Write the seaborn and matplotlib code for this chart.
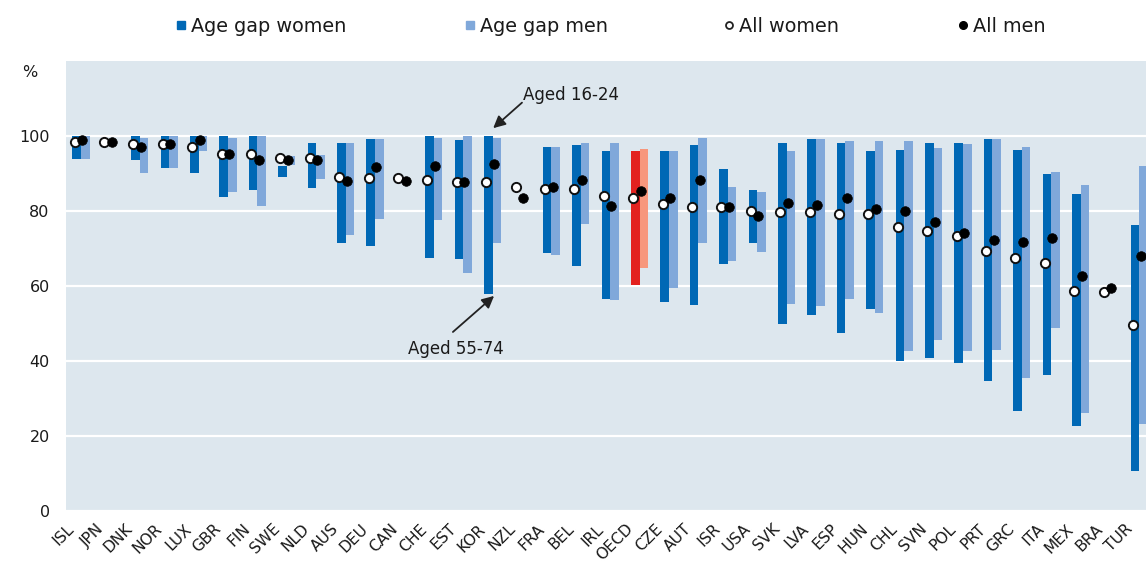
import numpy as np
import pandas as pd
import matplotlib
matplotlib.use("Agg")
import matplotlib.pyplot as plt
from matplotlib.lines import Line2D
from matplotlib.transforms import ScaledTranslation
import seaborn as sns

# Dati (%)
countries = ["ISL", "JPN", "DNK", "NOR", "LUX", "GBR", "FIN", "SWE", "NLD", "AUS",
             "DEU", "CAN", "CHE", "EST", "KOR", "NZL", "FRA", "BEL", "IRL", "OECD",
             "CZE", "AUT", "ISR", "USA", "SVK", "LVA", "ESP", "HUN", "CHL", "SVN",
             "POL", "PRT", "GRC", "ITA", "MEX", "BRA", "TUR"]

women_16_24 = [100, np.nan, 100, 100, 100, 100, 100, 91.8, 98.1, 98.1,
               99.0, np.nan, 100, 98.8, 99.8, np.nan, 96.9, 97.4, 96.0, 96.0,
               96.0, 97.4, 91.2, 85.5, 98.1, 99.0, 98.1, 95.8, 96.2, 98.1,
               98.1, 99.0, 96.2, 89.8, 84.5, np.nan, 76.3]
women_55_74 = [93.8, np.nan, 93.4, 91.3, 90.0, 83.7, 85.6, 88.9, 86.0, 71.4,
               70.6, np.nan, 67.3, 67.2, 57.9, np.nan, 68.7, 65.2, 56.5, 60.3,
               55.6, 55.0, 65.8, 71.5, 49.7, 52.2, 47.3, 53.7, 40.0, 40.7,
               39.3, 34.7, 26.6, 36.2, 22.6, np.nan, 10.7]
men_16_24 = [100, np.nan, 99.5, 100, 100, 99.5, 100, 94.5, 94.9, 98.1,
             99.0, np.nan, 99.5, 99.8, 99.3, np.nan, 96.9, 98.0, 98.0, 96.5,
             96.0, 99.3, 86.3, 85.1, 95.8, 99.0, 98.6, 98.6, 98.6, 96.6,
             97.7, 99.0, 97.1, 90.4, 86.9, np.nan, 91.8]
men_55_74 = [93.8, np.nan, 90.0, 91.3, 95.8, 85.1, 81.3, 92.3, 88.5, 73.6,
             77.8, np.nan, 77.4, 63.3, 71.5, np.nan, 68.1, 76.4, 56.1, 64.7,
             59.4, 71.5, 66.7, 69.1, 55.1, 54.7, 56.6, 52.7, 42.5, 45.6,
             42.5, 43.0, 35.4, 48.8, 26.2, np.nan, 23.3]
all_women = [98.4, 98.4, 97.9, 97.9, 96.9, 95.0, 95.0, 94.1, 94.1, 89.1,
             88.7, 88.7, 88.2, 87.6, 87.6, 86.2, 85.7, 85.7, 83.8, 83.3,
             81.7, 81.0, 81.0, 80.0, 79.6, 79.6, 79.0, 79.0, 75.7, 74.6,
             73.2, 69.3, 67.4, 66.0, 58.7, 58.3, 49.5]
all_men = [98.9, 98.4, 96.9, 97.9, 98.9, 95.0, 93.5, 93.5, 93.5, 87.8,
           91.6, 87.8, 92.0, 87.6, 92.4, 83.4, 86.2, 88.2, 81.3, 85.3,
           83.5, 88.2, 81.0, 78.5, 82.0, 81.4, 83.4, 80.5, 80.0, 77.1,
           74.2, 72.3, 71.8, 72.8, 62.6, 59.3, 67.9]

sns.set_theme(style="white", rc={"axes.facecolor": "#dde7ee"})
plt.rcParams["font.family"] = ["DejaVu Sans"]
text_col = "#1a1a1a"

DARK = "#0068b5"
LIGHT = "#80a8da"
RED = "#e3221f"
SALMON = "#f7977c"

df = pd.DataFrame({
    "Country": countries,
    "W young": women_16_24, "W old": women_55_74,
    "M young": men_16_24, "M old": men_55_74,
    "All women": all_women, "All men": all_men,
})
df["pos"] = np.arange(len(df))
df["w_low"] = df[["W young", "W old"]].min(axis=1)
df["w_high"] = df[["W young", "W old"]].max(axis=1)
df["m_low"] = df[["M young", "M old"]].min(axis=1)
df["m_high"] = df[["M young", "M old"]].max(axis=1)
is_oecd = df["Country"] == "OECD"

fig = plt.figure(figsize=(11.46, 5.64), dpi=100)
ax = fig.add_axes([66.3 / 1146, 1 - 511 / 564, 1080 / 1146, 450.4 / 564])

bw = 0.29
# barre "gap" fluttuanti (da 55-74 a 16-24)
ax.bar(df["pos"] - bw / 2, df["w_high"] - df["w_low"], bottom=df["w_low"], width=bw,
       color=np.where(is_oecd, RED, DARK), linewidth=0, zorder=2)
ax.bar(df["pos"] + bw / 2, df["m_high"] - df["m_low"], bottom=df["m_low"], width=bw,
       color=np.where(is_oecd, SALMON, LIGHT), linewidth=0, zorder=2)

# punti "All women" / "All men"
sns.scatterplot(x=df["pos"] - 0.22, y=df["All women"], ax=ax, s=44, color="white",
                edgecolor="#111111", linewidth=1.4, zorder=4, legend=False)
sns.scatterplot(x=df["pos"] + 0.04, y=df["All men"], ax=ax, s=48, color="black",
                edgecolor="black", linewidth=0.5, zorder=5, legend=False)

ax.set_xlim(-0.5, -0.5 + 1080 / 29.4)
ax.set_ylim(0, 120)
ax.set_yticks([0, 20, 40, 60, 80, 100])
ax.set_xticks(df["pos"])
ax.set_xticklabels(countries, rotation=45, ha="right", va="bottom", rotation_mode="anchor",
                   fontsize=11.2, color=text_col)
ax.tick_params(axis="y", labelsize=11.5, colors=text_col, length=0, pad=12)
ax.tick_params(axis="x", length=0, pad=15)
# piccolo spostamento a sinistra delle etichette ruotate
shift = ScaledTranslation(-4 / 100, 0, fig.dpi_scale_trans)
for lab in ax.get_xticklabels():
    lab.set_transform(lab.get_transform() + shift)
ax.yaxis.grid(True, color="white", linewidth=1.6, zorder=0)
ax.set_axisbelow(True)
for sp in ax.spines.values():
    sp.set_visible(False)
ax.set_xlabel("")
ax.set_ylabel("")
fig.text(30 / 1146, 1 - 73 / 564, "%", fontsize=11.5, color=text_col, ha="center", va="center")

# annotazioni per la Corea
kor = df.index[df["Country"] == "KOR"][0]
arrow = dict(arrowstyle="-|>", color="#222222", lw=1.3, mutation_scale=18, shrinkA=0, shrinkB=0)
ax.annotate("", xy=(kor + 0.02, 102), xytext=(kor + 1.0, 108.8), arrowprops=arrow)
ax.text(kor + 1.03, 110.9, "Aged 16-24", fontsize=12, color=text_col, ha="left", va="center")
ax.annotate("", xy=(kor + 0.05, 57.3), xytext=(kor - 1.35, 47.7), arrowprops=arrow)
ax.text(kor - 2.88, 43.2, "Aged 55-74", fontsize=12, color=text_col, ha="left", va="center")

# legenda in alto, una voce per posizione
entries = [
    (Line2D([], [], marker="s", linestyle="", markersize=6, color=DARK), "Age gap women", 177),
    (Line2D([], [], marker="s", linestyle="", markersize=6, color=LIGHT), "Age gap men", 466),
    (Line2D([], [], marker="o", linestyle="", markersize=5, markerfacecolor="white",
            markeredgecolor="#222222", markeredgewidth=1.3), "All women", 725),
    (Line2D([], [], marker="o", linestyle="", markersize=5.5, color="black"), "All men", 959),
]
for handle, label, xpix in entries:
    leg = fig.legend([handle], [label], loc="center left", bbox_to_anchor=(xpix / 1146, 1 - 26 / 564),
                     frameon=False, fontsize=13.9, handlelength=0.45, handletextpad=0.3,
                     borderpad=0, borderaxespad=0)
    for t in leg.get_texts():
        t.set_color(text_col)

plt.savefig("out.png", dpi=100)
